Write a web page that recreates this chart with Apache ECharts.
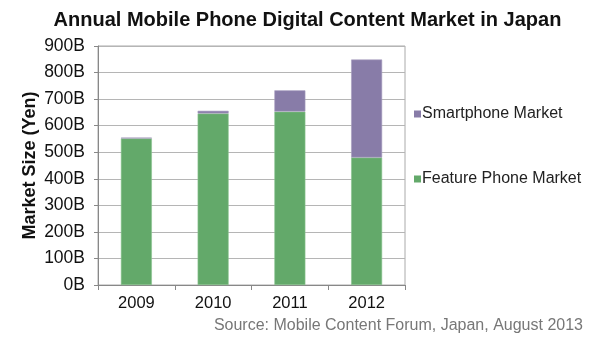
<!DOCTYPE html>
<html>
<head>
<meta charset="utf-8">
<script src="https://cdn.jsdelivr.net/npm/echarts@6/dist/echarts.min.js"></script>
<style>
html,body{margin:0;padding:0;background:#fff;}
#chart{width:615px;height:348px;}
</style>
</head>
<body>
<div id="chart"></div>
<script>
const years = ['2009', '2010', '2011', '2012'];
const featurePhone = [552, 646, 653, 480];
const smartphone = [3, 10, 80, 369];
const yTicks = { min: 0, max: 900, interval: 100 };

const FONT = '"Liberation Sans", Arial, Helvetica, sans-serif';
const chart = echarts.init(document.getElementById('chart'));
chart.setOption({
  animation: false,
  backgroundColor: '#fff',
  textStyle: { fontFamily: FONT },
  title: {
    text: 'Annual Mobile Phone Digital Content Market in Japan',
    left: 'center',
    top: 5,
    textStyle: { fontFamily: FONT, fontSize: 20, fontWeight: 'bold', color: '#111' }
  },
  legend: {
    orient: 'vertical',
    left: 409,
    top: 101,
    itemGap: 49,
    itemWidth: 7,
    itemHeight: 7,
    icon: 'rect',
    itemStyle: { borderWidth: 0 },
    data: ['Smartphone Market', 'Feature Phone Market'],
    textStyle: { fontFamily: FONT, fontSize: 16, color: '#222', padding: [0, 0, 0, -4] }
  },
  grid: {
    left: 98, right: 210, top: 46, bottom: 63,
    show: true, borderColor: '#aaa', borderWidth: 1
  },
  xAxis: {
    type: 'category',
    data: years,
    axisLine: { lineStyle: { color: '#888' } },
    axisTick: { show: true, alignWithLabel: false, length: 5, lineStyle: { color: '#888' } },
    axisLabel: { fontFamily: FONT, fontSize: 16.5, color: '#111', margin: 10 }
  },
  yAxis: {
    type: 'value',
    min: yTicks.min, max: yTicks.max, interval: yTicks.interval,
    name: 'Market Size (Yen)',
    nameLocation: 'middle',
    nameGap: 59,
    nameTextStyle: { fontFamily: FONT, fontSize: 18, fontWeight: 'bold', color: '#111' },
    axisLine: { show: true, lineStyle: { color: '#888' } },
    axisTick: { show: true, length: 4, lineStyle: { color: '#888' } },
    splitLine: { lineStyle: { color: '#b5b5b5' } },
    axisLabel: { fontFamily: FONT, fontSize: 17.5, color: '#111', margin: 13, formatter: '{value}B' }
  },
  series: [
    {
      name: 'Feature Phone Market',
      type: 'bar',
      stack: 'total',
      data: featurePhone,
      barWidth: 31,
      itemStyle: { color: '#63a96a', borderColor: '#8cc590', borderWidth: 0.6 }
    },
    {
      name: 'Smartphone Market',
      type: 'bar',
      stack: 'total',
      data: smartphone,
      barWidth: 31,
      itemStyle: { color: '#887ca8', borderColor: '#a79dc0', borderWidth: 0.6 }
    }
  ],
  graphic: [
    {
      type: 'text',
      right: 32,
      top: 318,
      style: {
        text: 'Source: Mobile Content Forum, Japan, August 2013',
        font: '16px ' + FONT,
        fill: '#777'
      }
    }
  ]
});
</script>
</body>
</html>
